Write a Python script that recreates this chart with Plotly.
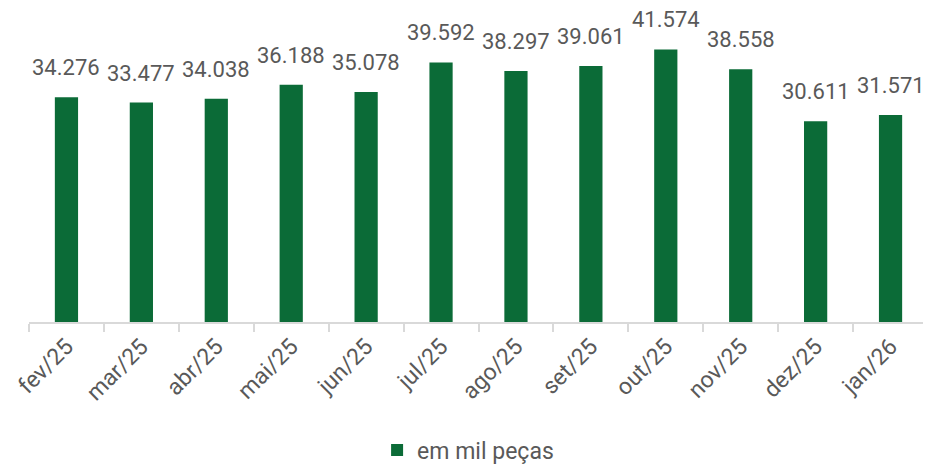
import plotly.graph_objects as go

categories = ["fev/25", "mar/25", "abr/25", "mai/25", "jun/25", "jul/25",
              "ago/25", "set/25", "out/25", "nov/25", "dez/25", "jan/26"]
values = [34.276, 33.477, 34.038, 36.188, 35.078, 39.592,
          38.297, 39.061, 41.574, 38.558, 30.611, 31.571]
series_name = "em mil peças"

GREEN = "#0b6b37"
GRAY = "#595959"
FONT = "Roboto"

fig = go.Figure()
fig.add_trace(go.Bar(
    x=categories, y=values, name=series_name,
    marker=dict(color=GREEN, line=dict(width=0)),
    width=0.31, showlegend=True,
))

for c, v in zip(categories, values):
    fig.add_annotation(
        x=c, y=v, text=f"{v:.3f}", showarrow=False,
        yanchor="bottom", yshift=15,
        font=dict(family=FONT, size=22, color=GRAY),
    )

# page body has an 8px default margin; figure is sized to fill the rest
fig.update_layout(
    width=923, height=457,
    margin=dict(l=21, r=3, t=19, b=143, autoexpand=False),
    paper_bgcolor="white", plot_bgcolor="white",
    font=dict(family=FONT, color=GRAY),
    showlegend=True,
    legend=dict(
        orientation="h", x=0.3872, xanchor="left",
        y=-0.434, yanchor="middle",
        font=dict(family=FONT, size=23, color=GRAY),
        itemwidth=30,
    ),
    xaxis=dict(
        type="category", automargin=False,
        showline=True, linecolor="#d9d9d9", linewidth=2,
        ticks="outside", tickson="boundaries", ticklen=8,
        tickcolor="#d9d9d9", tickwidth=2,
        tickangle=-45,
        tickfont=dict(family=FONT, size=23, color=GRAY),
        showgrid=False,
    ),
    yaxis=dict(
        range=[0, 45], visible=False, showgrid=False, zeroline=False,
    ),
)

fig.write_html("out.html")
